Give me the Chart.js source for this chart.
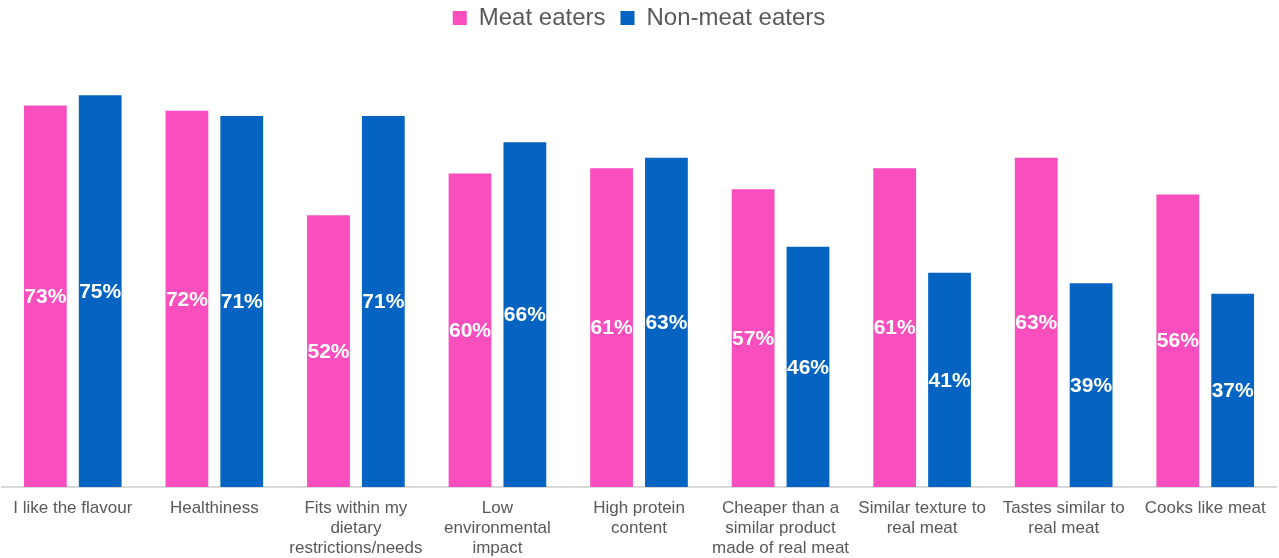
<!DOCTYPE html>
<html>
<head>
<meta charset="utf-8">
<script src="https://cdn.jsdelivr.net/npm/chart.js@4"></script>
<style>
    html, body { margin: 0; padding: 0; background: #fff; }
    #wrap { width: 1279px; height: 558px; }
</style>
</head>
<body>
<div id="wrap"><canvas id="chart"></canvas></div>
<script>
const categories = [
    "I like the flavour",
    "Healthiness",
    ["Fits within my", "dietary", "restrictions/needs"],
    ["Low", "environmental", "impact"],
    ["High protein", "content"],
    ["Cheaper than a", "similar product", "made of real meat"],
    ["Similar texture to", "real meat"],
    ["Tastes similar to", "real meat"],
    "Cooks like meat"
];
const meatEaters = [73, 72, 52, 60, 61, 57, 61, 63, 56];
const nonMeatEaters = [75, 71, 71, 66, 63, 46, 41, 39, 37];

const pink = "#F94EBE";
const blue = "#0563C1";
const grey = "#595959";
const font = "Arial, 'Liberation Sans', sans-serif";

// extra room under the legend
const legendSpace = {
    id: "legendSpace",
    beforeInit(chart) {
        const fit = chart.legend.fit;
        chart.legend.fit = function () {
            fit.bind(chart.legend)();
            this.height += 29;
        };
    }
};

// percentage labels in the middle of each bar
const barLabels = {
    id: "barLabels",
    afterDatasetsDraw(chart) {
        const c = chart.ctx;
        c.save();
        c.fillStyle = "#fff";
        c.font = "bold 21px " + font;
        c.textAlign = "center";
        c.textBaseline = "middle";
        chart.data.datasets.forEach(function (ds, i) {
            chart.getDatasetMeta(i).data.forEach(function (bar, j) {
                const mid = (bar.y + bar.base) / 2;
                c.fillText(ds.data[j] + "%", bar.x, mid + 1);
            });
        });
        c.restore();
    }
};

new Chart(document.getElementById("chart"), {
    type: "bar",
    data: {
        labels: categories,
        datasets: [
            { label: "Meat eaters", data: meatEaters, backgroundColor: pink },
            { label: "Non-meat eaters", data: nonMeatEaters, backgroundColor: blue }
        ]
    },
    options: {
        responsive: true,
        maintainAspectRatio: false,
        animation: false,
        layout: { padding: { left: 2, right: 3, top: -9, bottom: 0 } },
        datasets: {
            bar: { categoryPercentage: 0.775, barPercentage: 0.78 }
        },
        plugins: {
            tooltip: { enabled: false },
            legend: {
                position: "top",
                labels: {
                    boxWidth: 14,
                    boxHeight: 14,
                    padding: 15,
                    color: grey,
                    font: { size: 24, family: font }
                }
            }
        },
        scales: {
            x: {
                grid: { display: false },
                border: { color: "#D9D9D9", width: 2 },
                afterFit: function (scale) { scale.height = 71; },
                ticks: {
                    color: grey,
                    padding: 4,
                    maxRotation: 0,
                    autoSkip: false,
                    font: { size: 17, family: font, lineHeight: 1.15 }
                }
            },
            y: {
                display: false,
                min: 0,
                max: 80
            }
        }
    },
    plugins: [legendSpace, barLabels]
});
</script>
</body>
</html>
